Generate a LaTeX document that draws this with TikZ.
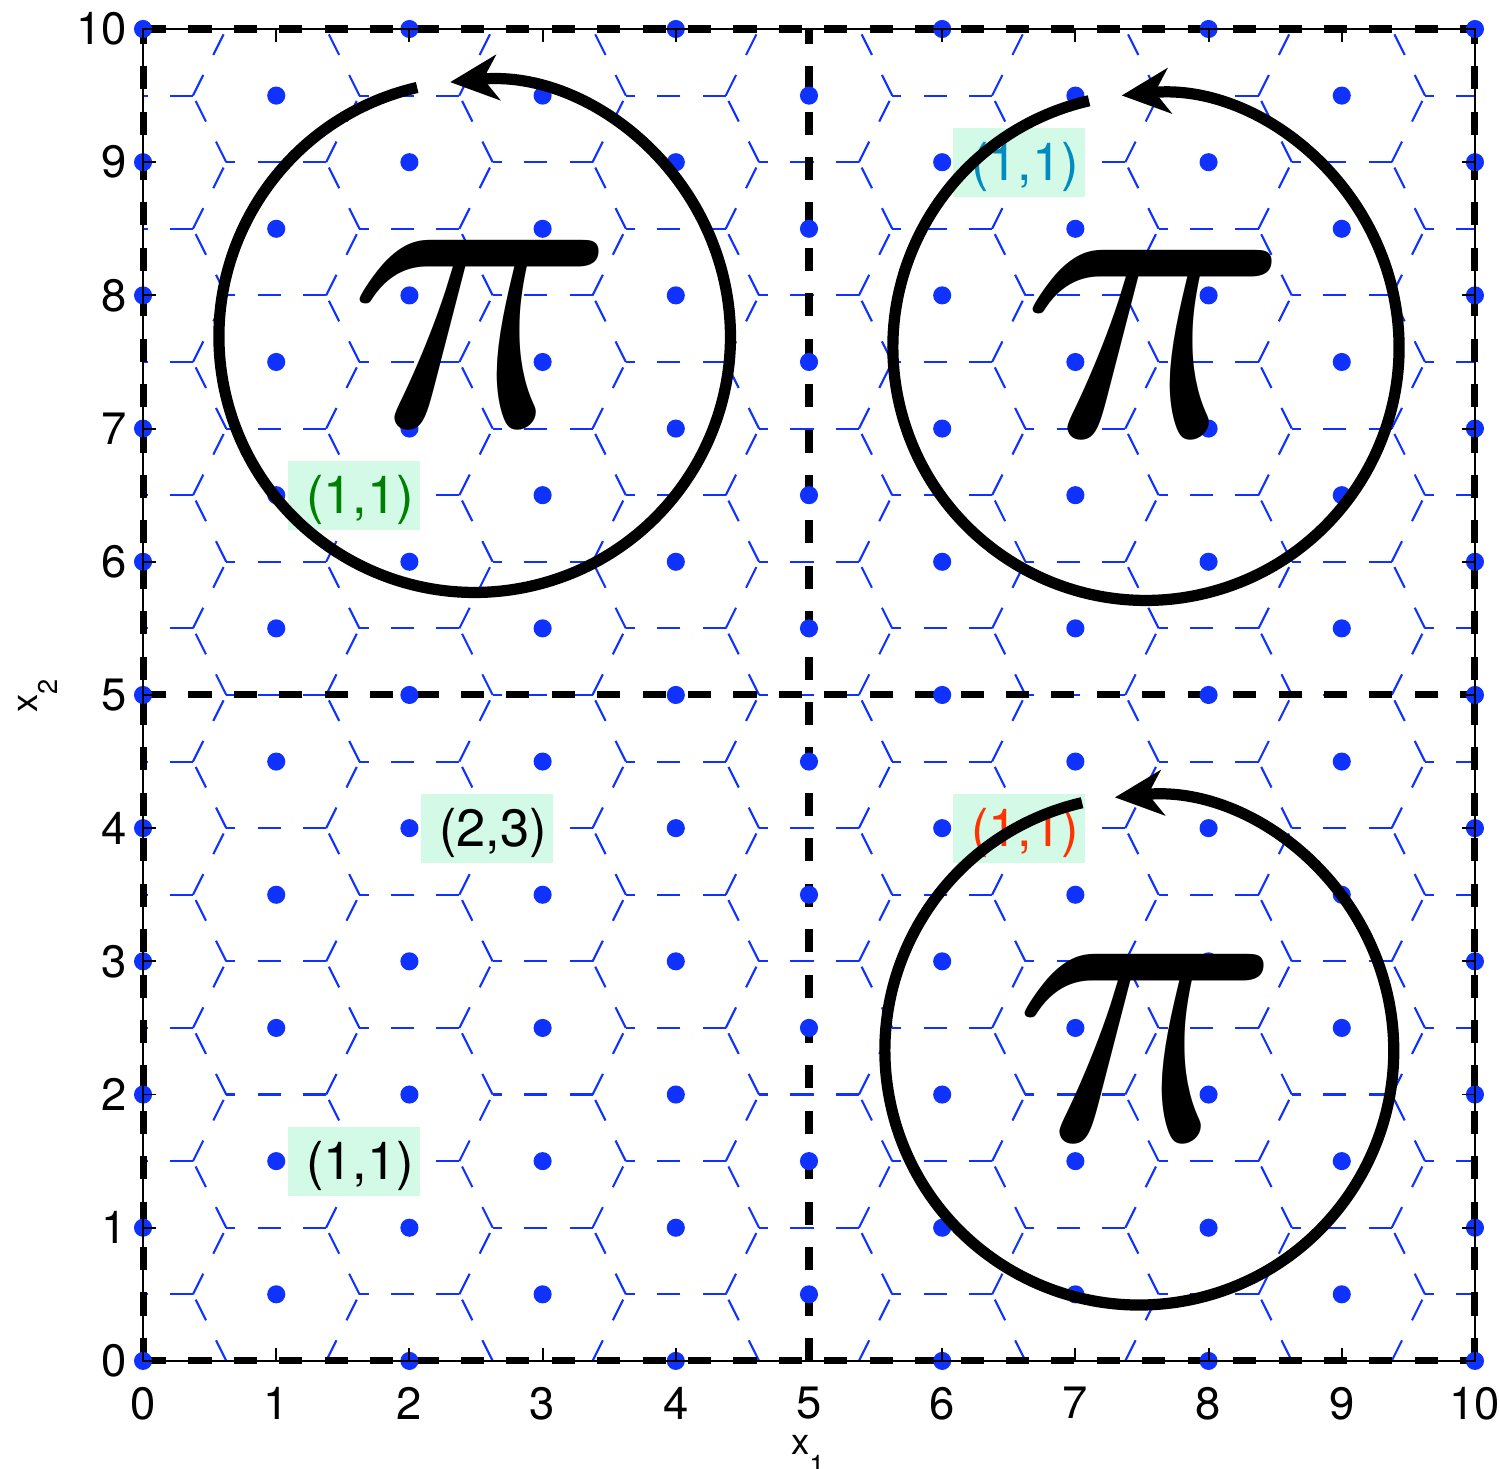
\RequirePackage{fix-cm}
\documentclass[tikz,border=0pt]{standalone}
\usepackage{graphicx}
\usepackage{fontspec}
\setmainfont{TeX Gyre Heros}
\usetikzlibrary{arrows.meta}

\definecolor{dotblue}{RGB}{15,50,255}
\definecolor{boxgreen}{RGB}{210,250,230}
\definecolor{lblgreen}{RGB}{0,128,0}
\definecolor{lblteal}{RGB}{0,140,190}
\definecolor{lblred}{RGB}{255,50,0}

\newcommand{\bigpi}{\scalebox{10.2}{\fontsize{9}{9}\selectfont$\pi$}}

\begin{document}
\begin{tikzpicture}[
    font=\fontsize{9.7}{11}\selectfont,
    hexedge/.style={dotblue, line width=0.45pt, dash pattern=on 0.173cm off 0.168cm},
    bigdash/.style={line width=1.5pt, dash pattern=on 0.173cm off 0.168cm},
    ticklabel/.style={inner sep=0pt},
    axlabel/.style={inner sep=0pt, font=\fontsize{7.8}{9}\selectfont},
    tag/.style={fill=boxgreen, inner ysep=0pt, inner xsep=0.045cm, text width=0.901cm,
        align=right, text height=11.3pt, text depth=3.4pt, font=\fontsize{11.2}{13}\selectfont, anchor=west},
    turn/.style={line width=2.4pt, -{Stealth[length=0.36cm, width=0.34cm, inset=0.11cm]}},
    pisym/.style={inner sep=0pt}
]
    \useasboundingbox (-1.074,-0.811) rectangle (10.188,10.218);

    % Voronoi cells (hexagons)
    \begin{scope}
        \clip (0,0) rectangle (10,10);
        \foreach \y in {0,...,10}
            \foreach \x in {1,3,...,9} {
                \draw[hexedge] (\x+0.375,\y) -- (\x-0.375,\y);
                \draw[hexedge] (\x-0.625,\y-0.5) -- (\x-0.375,\y);
                \draw[hexedge] (\x-0.375,\y) -- (\x-0.625,\y+0.5);
                \draw[hexedge] (\x+0.625,\y-0.5) -- (\x+0.375,\y);
                \draw[hexedge] (\x+0.375,\y) -- (\x+0.625,\y+0.5);
            }
        \foreach \y in {0.5,1.5,...,9.5}
            \foreach \x in {0,2,...,10}
                \draw[hexedge] (\x+0.375,\y) -- (\x-0.375,\y);
    \end{scope}

    % Quadrant borders
    \draw[bigdash] (0,0) -- (10,0);
    \draw[bigdash] (0,10) -- (10,10);
    \draw[bigdash] (0,0) -- (0,10);
    \draw[bigdash] (10,0) -- (10,10);
    \draw[bigdash] (5,0) -- (5,10);
    \draw[bigdash] (0,5) -- (10,5);

    % Lattice points
    \foreach \y in {0,...,10}
        \foreach \x in {0,2,...,10}
            \fill[dotblue] (\x,\y) circle (0.068);
    \foreach \y in {0.5,1.5,...,9.5}
        \foreach \x in {1,3,...,9}
            \fill[dotblue] (\x,\y) circle (0.068);

    % Axes box and ticks
    \draw[line width=0.5pt] (0,0) rectangle (10,10);
    \foreach \i in {0,...,10} {
        \draw[line width=0.4pt] (\i,0) -- (\i,0.1);
        \draw[line width=0.4pt] (\i,10) -- (\i,9.9);
        \draw[line width=0.4pt] (0,\i) -- (0.1,\i);
        \draw[line width=0.4pt] (10,\i) -- (9.9,\i);
        \node[ticklabel, anchor=north] (xt\i) at (\i,-0.188) {\i};
        \node[ticklabel, anchor=east] (yt\i) at (-0.113,\i) {\i};
    }
    \node[axlabel, anchor=base] (xlab) at (4.99,-0.699)
        {x\raisebox{-4.3pt}{\fontsize{5.8}{6}\selectfont 1}};
    \node[axlabel, anchor=base, rotate=90] (ylab) at (-0.796,4.99)
        {x\raisebox{-4.3pt}{\fontsize{5.8}{6}\selectfont 2}};

    % Labels
    \node[tag, text=lblgreen] (tagA) at (1.081,6.5) {(1,1)};
    \node[tag, text=lblteal] (tagB) at (6.074,9) {(1,1)};
    \node[tag] (tagC) at (2.08,4) {(2,3)};
    \node[tag, text=lblred] (tagD) at (6.074,4) {(1,1)};
    \node[tag] (tagE) at (1.081,1.5) {(1,1)};

    % Rotations by pi
    \coordinate (rotA) at (2.49,7.69);
    \coordinate (rotB) at (7.53,7.61);
    \coordinate (rotC) at (7.48,2.33);
    \draw[turn] ([shift={(103:1.92)}]rotA) arc[start angle=103, end angle=455.5, radius=1.92];
    \draw[turn] ([shift={(103:1.9)}]rotB) arc[start angle=103, end angle=455.5, radius=1.9];
    \draw[turn] ([shift={(103:1.91)}]rotC) arc[start angle=103, end angle=455.5, radius=1.91];

    \node[pisym] (piA) at (2.55,7.72) {\bigpi};
    \node[pisym] (piB) at (7.6,7.64) {\bigpi};
    \node[pisym] (piC) at (7.54,2.355) {\bigpi};
\end{tikzpicture}
\end{document}
